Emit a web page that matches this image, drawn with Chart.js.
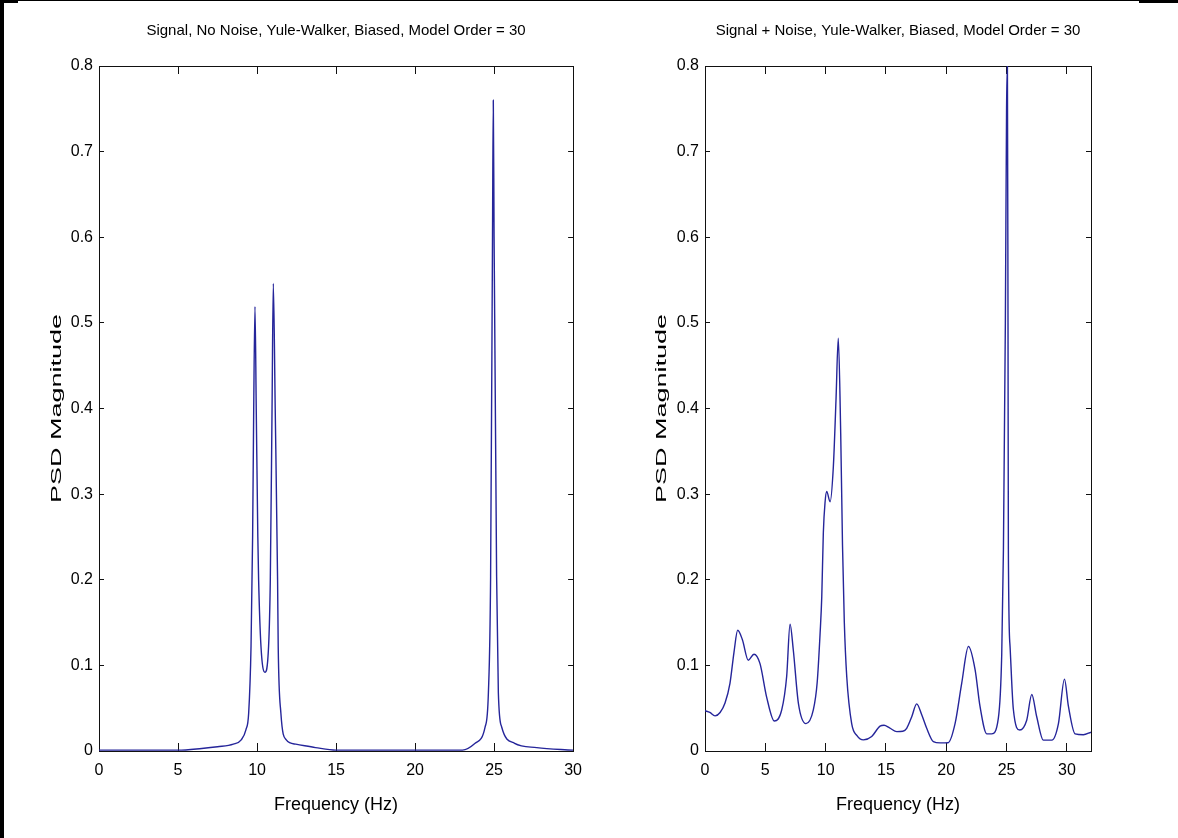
<!DOCTYPE html>
<html lang="en">
<head>
<meta charset="UTF-8">
<title>Yule-Walker PSD</title>
<script src="https://cdn.jsdelivr.net/npm/chart.js"></script>
<style>
    html, body { margin: 0; padding: 0; background: #fff; }
    .page { position: relative; width: 1178px; height: 838px; overflow: hidden; background: #fff; }
    #leftChart { position: absolute; left: 0; top: 0; }
    #rightChart { position: absolute; left: 600px; top: 0; }
    .edge { position: absolute; background: #000; }
</style>
</head>
<body>
<div class="page">
    <canvas id="leftChart" width="600" height="838"></canvas>
    <canvas id="rightChart" width="578" height="838"></canvas>
    <div class="edge" style="left:0;top:0;width:4px;height:838px"></div>
    <div class="edge" style="left:0;top:0;width:1178px;height:1px"></div>
    <div class="edge" style="left:0;top:0;width:18px;height:3px"></div>
    <div class="edge" style="left:1139px;top:0;width:39px;height:3px"></div>
</div>

<script>
    // axis ticks
    const yTicks = [0, 0.1, 0.2, 0.3, 0.4, 0.5, 0.6, 0.7, 0.8];
    const xTicksLeft = [0, 5, 10, 15, 20, 25, 30];
    const xTicksRight = [0, 5, 10, 15, 20, 25, 30];

    // signal, no noise
    const leftFreq = [0, 5, 6.5, 7.5, 8.5, 9.0, 9.3, 9.47, 9.62, 9.72, 9.79, 9.87, 9.95, 10.05, 10.1, 10.25, 10.5,
        10.73, 10.84, 10.95, 11.03, 11.15, 11.3, 11.34, 11.51, 11.85, 12.45, 13.7, 15, 20, 23, 23.8, 24.43, 24.64,
        24.78, 24.9, 24.95, 25.0, 25.16, 25.27, 25.48, 26.3, 27.7, 30];
    const leftPsd = [0.001, 0.001, 0.003, 0.005, 0.008, 0.013, 0.025, 0.044, 0.122, 0.25, 0.4, 0.519, 0.4, 0.25, 0.2, 0.122, 0.092,
        0.122, 0.2, 0.4, 0.546, 0.4, 0.2, 0.122, 0.044, 0.013, 0.008, 0.004, 0.001, 0.001, 0.001, 0.009, 0.028, 0.068,
        0.204, 0.6, 0.76, 0.6, 0.204, 0.068, 0.028, 0.009, 0.004, 0.001];

    // signal + noise
    const rightFreq = [0, 0.4, 0.83, 1.25, 1.66, 2.07, 2.4, 2.71, 3.1, 3.59, 4.06, 4.56, 5.11, 5.75, 6.36, 6.77, 7.05, 7.32,
        7.74, 8.37, 8.98, 9.3, 9.54, 9.68, 9.81, 9.95, 10.09, 10.37, 10.64, 10.86, 11.05, 11.25, 11.4, 11.55, 11.75, 12.16,
        12.6, 13.13, 13.82, 14.51, 14.84, 15.3, 15.9, 16.4, 16.72, 17.14, 17.55, 17.95, 18.38, 18.93, 19.5, 20.15, 20.73,
        21.28, 21.84, 22.39, 22.8, 23.36, 23.77, 24.32, 24.6, 24.74, 24.9, 25.0, 25.07, 25.12, 25.15, 25.29, 25.56, 26.1,
        26.67, 27.09, 27.5, 28.05, 28.75, 29.3, 29.8, 30.13, 30.68, 31.37, 32];
    const rightPsd = [0.047, 0.045, 0.041, 0.045, 0.056, 0.079, 0.115, 0.141, 0.13, 0.106, 0.113, 0.102, 0.063, 0.035, 0.048, 0.087, 0.148, 0.118,
        0.056, 0.032, 0.048, 0.08, 0.137, 0.18, 0.255, 0.29, 0.303, 0.291, 0.332, 0.41, 0.482, 0.371, 0.24, 0.15, 0.087, 0.032,
        0.018, 0.013, 0.017, 0.029, 0.03, 0.027, 0.0226, 0.023, 0.0265, 0.04, 0.055, 0.043, 0.0265, 0.011, 0.0095, 0.0097, 0.032,
        0.079, 0.122, 0.095, 0.052, 0.02, 0.02, 0.0385, 0.113, 0.235, 0.5, 0.75, 0.8, 0.5, 0.235, 0.122, 0.049, 0.0245,
        0.036, 0.066, 0.04, 0.0127, 0.0127, 0.032, 0.084, 0.052, 0.02, 0.019, 0.022];

    const sans = "'Liberation Sans', Arial, sans-serif";
    const ink = '#111';

    // the y label in the picture is stretched along its length, so draw it by hand
    const stretchedYTitle = {
        id: 'stretchedYTitle',
        afterDraw(chart, args, opts) {
            const { ctx, chartArea } = chart;
            ctx.save();
            ctx.translate(opts.x, (chartArea.top + chartArea.bottom) / 2);
            ctx.rotate(-Math.PI / 2);
            ctx.scale(1.8, 1);
            ctx.font = '15px ' + sans;
            ctx.fillStyle = '#000';
            ctx.textAlign = 'center';
            ctx.textBaseline = 'middle';
            ctx.fillText(opts.text, 0, 0);
            ctx.restore();
        }
    };

    function pinTicks(values) {
        return scale => { scale.ticks = values.map(v => ({ value: v })); };
    }

    function makeChart(id, title, freq, psd, xMax, xTicks, yWidth, yTitleX, rightPad) {
        const frame = { display: true, color: ink, width: 1 };
        const xGrid = { drawOnChartArea: false, tickLength: -8, color: ink };
        const yGrid = { drawOnChartArea: false, tickLength: -5, color: ink };

        return new Chart(document.getElementById(id), {
            type: 'line',
            data: {
                datasets: [{
                    data: freq.map((f, i) => ({ x: f, y: psd[i] })),
                    borderColor: '#25259a',
                    borderWidth: 1.4,
                    pointRadius: 0,
                    cubicInterpolationMode: 'monotone',
                    fill: false
                }]
            },
            plugins: [stretchedYTitle],
            options: {
                responsive: false,
                animation: false,
                layout: { padding: { left: 0, right: rightPad, top: 0, bottom: 0 } },
                plugins: {
                    legend: { display: false },
                    tooltip: { enabled: false },
                    title: {
                        display: true, text: title, color: '#000', fullSize: false,
                        font: { family: sans, size: 15, weight: 'normal' },
                        padding: { top: 22, bottom: 26 }
                    },
                    stretchedYTitle: { text: 'PSD Magnitude', x: yTitleX }
                },
                scales: {
                    x: {
                        type: 'linear', axis: 'x', position: 'bottom', min: 0, max: xMax,
                        afterBuildTicks: pinTicks(xTicks),
                        afterFit: s => { s.height = 87; },
                        grid: xGrid, border: frame,
                        ticks: { padding: 18, color: '#000', font: { family: sans, size: 16 }, maxRotation: 0, autoSkip: false },
                        title: { display: true, text: 'Frequency (Hz)', color: '#000', font: { family: sans, size: 18 }, padding: { top: 0, bottom: 22 } }
                    },
                    xTop: {
                        type: 'linear', axis: 'x', position: 'top', min: 0, max: xMax,
                        afterBuildTicks: pinTicks(xTicks),
                        afterFit: s => { s.height = 0; },
                        grid: xGrid, border: frame,
                        ticks: { display: false }
                    },
                    y: {
                        type: 'linear', axis: 'y', position: 'left', min: 0, max: 0.8,
                        afterBuildTicks: pinTicks(yTicks),
                        afterFit: s => { s.width = yWidth; },
                        grid: yGrid, border: frame,
                        ticks: { padding: 11, color: '#000', font: { family: sans, size: 16 }, autoSkip: false }
                    },
                    yRight: {
                        type: 'linear', axis: 'y', position: 'right', min: 0, max: 0.8,
                        afterBuildTicks: pinTicks(yTicks),
                        afterFit: s => { s.width = 0; },
                        grid: yGrid, border: frame,
                        ticks: { display: false }
                    }
                }
            }
        });
    }

    makeChart('leftChart', 'Signal, No Noise, Yule-Walker, Biased, Model Order = 30',
        leftFreq, leftPsd, 30, xTicksLeft, 99, 57, 25);
    makeChart('rightChart', 'Signal + Noise, Yule-Walker, Biased, Model Order = 30',
        rightFreq, rightPsd, 32, xTicksRight, 105, 62, 87);
</script>
</body>
</html>
